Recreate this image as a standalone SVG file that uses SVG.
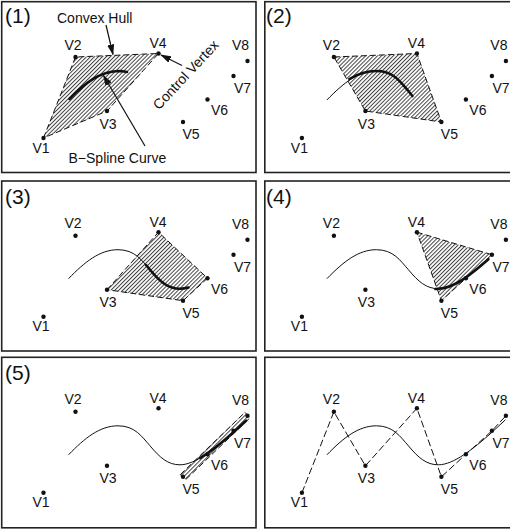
<svg xmlns="http://www.w3.org/2000/svg" width="510" height="529" viewBox="0 0 510 529">
<style>
.frame{fill:none;stroke:#222;stroke-width:1.6}
.lbl{font-family:"Liberation Sans",Arial,sans-serif;font-size:14px;fill:#111}
.mid{text-anchor:middle}
.num{font-family:"Liberation Sans",Arial,sans-serif;font-size:21px;fill:#111}
.dot{fill:#111}
.hull{fill:url(#hatch);stroke:#111;stroke-width:1;stroke-dasharray:6 3}
.curve{fill:none;stroke:#111;stroke-width:1}
.thick{fill:none;stroke:#111;stroke-width:2.6;stroke-linecap:round}
.poly{fill:none;stroke:#111;stroke-width:1;stroke-dasharray:7 3}
.arrow{fill:none;stroke:#111;stroke-width:1.2;marker-end:url(#ah)}
</style>
<defs>
<pattern id="hatch" patternUnits="userSpaceOnUse" width="2.8" height="2.8" patternTransform="rotate(45)">
<rect width="2.8" height="2.8" fill="#fff"/>
<line x1="0.5" y1="0" x2="0.5" y2="2.8" stroke="#444" stroke-width="1"/>
</pattern>
<marker id="ah" markerUnits="userSpaceOnUse" markerWidth="11" markerHeight="7" refX="10" refY="3.5" orient="auto">
<path d="M0,0 L11,3.5 L0,7 z" fill="#111"/>
</marker>
</defs>

<!-- Panel 1 -->
<g id="panel1">
<rect class="frame" x="1.7" y="1.7" width="254.3" height="170.8"/>
<text class="num" x="5" y="22.5">(1)</text>
<g id="p1-shapes">
<polygon class="hull" points="43.5,138 75.5,57 158.5,53.5 107,111"/>
<path class="thick" d="M69.5,99 C85,83 100,71.5 118,71 C121,71 124,71.3 127,72"/>
</g>
<g id="p1-vertices">
<circle class="dot" cx="43.5" cy="138" r="2.2"/><text class="lbl mid" x="41" y="152.5">V1</text>
<circle class="dot" cx="75.5" cy="57" r="2.2"/><text class="lbl mid" x="73" y="49.5">V2</text>
<circle class="dot" cx="107" cy="111" r="2.2"/><text class="lbl mid" x="108" y="128.5">V3</text>
<circle class="dot" cx="158.5" cy="53.5" r="2.2"/><text class="lbl mid" x="158" y="48">V4</text>
<circle class="dot" cx="183" cy="122" r="2.2"/><text class="lbl mid" x="191" y="139">V5</text>
<circle class="dot" cx="207.5" cy="99.5" r="2.2"/><text class="lbl mid" x="219.5" y="115">V6</text>
<circle class="dot" cx="233.5" cy="76" r="2.2"/><text class="lbl" x="234" y="93">V7</text>
<circle class="dot" cx="247.5" cy="61" r="2.2"/><text class="lbl mid" x="240.5" y="50">V8</text>
</g>
<g id="p1-annotations">
<text class="lbl" x="57" y="22.5">Convex Hull</text>
<text class="lbl" transform="translate(159,110.5) rotate(-47)">Control Vertex</text>
<text class="lbl" x="68.5" y="162.5">B−Spline Curve</text>
</g>
</g>

<!-- Panel 2 -->
<g id="panel2">
<rect class="frame" x="264.8" y="1.7" width="260" height="170.8"/>
<text class="num" x="266" y="22.5">(2)</text>
<g transform="translate(258.4,0)">
<polygon class="hull" points="75.5,57 158.5,53.5 183,122 107,111"/>
<path class="curve" d="M68.5,100 C85,83 100,71 118,71 C135,71 142,82 150,91 Q152,93.5 154,96"/>
<path class="thick" d="M91,79 C100,73.5 110,71 118,71 C135,71 142,82 150,91 Q152,93.5 154,96"/>
<circle class="dot" cx="43.5" cy="138" r="2.2"/><text class="lbl mid" x="41" y="152.5">V1</text>
<circle class="dot" cx="75.5" cy="57" r="2.2"/><text class="lbl mid" x="73" y="49.5">V2</text>
<circle class="dot" cx="107" cy="111" r="2.2"/><text class="lbl mid" x="108" y="128.5">V3</text>
<circle class="dot" cx="158.5" cy="53.5" r="2.2"/><text class="lbl mid" x="158" y="48">V4</text>
<circle class="dot" cx="183" cy="122" r="2.2"/><text class="lbl mid" x="191" y="139">V5</text>
<circle class="dot" cx="207.5" cy="99.5" r="2.2"/><text class="lbl mid" x="219.5" y="115">V6</text>
<circle class="dot" cx="233.5" cy="76" r="2.2"/><text class="lbl" x="234" y="93">V7</text>
<circle class="dot" cx="247.5" cy="61" r="2.2"/><text class="lbl mid" x="240.5" y="50">V8</text>
</g>
</g>

<!-- Panel 3 -->
<g id="panel3">
<rect class="frame" x="1.7" y="181" width="254.3" height="170"/>
<text class="num" x="5" y="203.5">(3)</text>
<g transform="translate(0,178.7)">
<polygon class="hull" points="107,111 158.5,53.5 207.5,99.5 183,122"/>
<path class="curve" d="M68.5,100 C85,83 100,71 118,71 C135,71 142,82 150,91"/>
<path class="thick" d="M146,86.5 Q148,88.5 150,91 C160,103 168,110 180,110 Q184,110 188.5,108.8"/>
<circle class="dot" cx="43.5" cy="138" r="2.2"/><text class="lbl mid" x="41" y="152.5">V1</text>
<circle class="dot" cx="75.5" cy="57" r="2.2"/><text class="lbl mid" x="73" y="49.5">V2</text>
<circle class="dot" cx="107" cy="111" r="2.2"/><text class="lbl mid" x="108" y="128.5">V3</text>
<circle class="dot" cx="158.5" cy="53.5" r="2.2"/><text class="lbl mid" x="158" y="48">V4</text>
<circle class="dot" cx="183" cy="122" r="2.2"/><text class="lbl mid" x="191" y="139">V5</text>
<circle class="dot" cx="207.5" cy="99.5" r="2.2"/><text class="lbl mid" x="219.5" y="115">V6</text>
<circle class="dot" cx="233.5" cy="76" r="2.2"/><text class="lbl" x="234" y="93">V7</text>
<circle class="dot" cx="247.5" cy="61" r="2.2"/><text class="lbl mid" x="240.5" y="50">V8</text>
</g>
</g>

<!-- Panel 4 -->
<g id="panel4">
<rect class="frame" x="264.8" y="181" width="260" height="170"/>
<text class="num" x="266" y="203.5">(4)</text>
<g transform="translate(258.4,178.7)">
<polygon class="hull" points="158.5,53.5 233.5,76 183,122"/>
<path class="curve" d="M68.5,100 C85,83 100,71 118,71 C135,71 142,82 150,91 C160,103 168,110 180,110"/>
<path class="thick" d="M177,110.3 L180,110 C195,110 213,95.5 230,80.5"/>
<circle class="dot" cx="43.5" cy="138" r="2.2"/><text class="lbl mid" x="41" y="152.5">V1</text>
<circle class="dot" cx="75.5" cy="57" r="2.2"/><text class="lbl mid" x="73" y="49.5">V2</text>
<circle class="dot" cx="107" cy="111" r="2.2"/><text class="lbl mid" x="108" y="128.5">V3</text>
<circle class="dot" cx="158.5" cy="53.5" r="2.2"/><text class="lbl mid" x="158" y="48">V4</text>
<circle class="dot" cx="183" cy="122" r="2.2"/><text class="lbl mid" x="191" y="139">V5</text>
<circle class="dot" cx="207.5" cy="99.5" r="2.2"/><text class="lbl mid" x="219.5" y="115">V6</text>
<circle class="dot" cx="233.5" cy="76" r="2.2"/><text class="lbl" x="234" y="93">V7</text>
<circle class="dot" cx="247.5" cy="61" r="2.2"/><text class="lbl mid" x="240.5" y="50">V8</text>
</g>
</g>

<!-- Panel 5 -->
<g id="panel5">
<rect class="frame" x="1.7" y="357.3" width="254.3" height="170.5"/>
<text class="num" x="5" y="380">(5)</text>
<g transform="translate(0,354.8)">
<polygon class="hull" points="180.3,119.8 245,57.5 250,63 185.5,125"/>
<path class="curve" d="M68.5,100 C85,83 100,71 118,71 C135,71 142,82 150,91 C160,103 168,110 180,110 C195,110 215,94 233,78 L247,65"/>
<path class="thick" d="M200,103.3 C210.7,97.2 222.2,87.6 233,78 L246,66"/>
<circle class="dot" cx="43.5" cy="138" r="2.2"/><text class="lbl mid" x="41" y="152.5">V1</text>
<circle class="dot" cx="75.5" cy="57" r="2.2"/><text class="lbl mid" x="73" y="49.5">V2</text>
<circle class="dot" cx="107" cy="111" r="2.2"/><text class="lbl mid" x="108" y="128.5">V3</text>
<circle class="dot" cx="158.5" cy="53.5" r="2.2"/><text class="lbl mid" x="158" y="48">V4</text>
<circle class="dot" cx="183" cy="122" r="2.2"/><text class="lbl mid" x="191" y="139">V5</text>
<circle class="dot" cx="207.5" cy="99.5" r="2.2"/><text class="lbl mid" x="219.5" y="115">V6</text>
<circle class="dot" cx="233.5" cy="76" r="2.2"/><text class="lbl" x="234" y="93">V7</text>
<circle class="dot" cx="247.5" cy="61" r="2.2"/><text class="lbl mid" x="240.5" y="50">V8</text>
</g>
</g>

<!-- Panel 6 -->
<g id="panel6">
<rect class="frame" x="264.8" y="357.3" width="260" height="170.5"/>
<g transform="translate(258.4,354.8)">
<polyline class="poly" points="43.5,138 75.5,57 107,111 158.5,53.5 183,122 207.5,99.5 233.5,76 247.5,61"/>
<path class="curve" d="M68.5,100 C85,83 100,71 118,71 C135,71 142,82 150,91 C160,103 168,110 180,110 C195,110 215,94 233,78 L247,65"/>
<circle class="dot" cx="43.5" cy="138" r="2.2"/><text class="lbl mid" x="41" y="152.5">V1</text>
<circle class="dot" cx="75.5" cy="57" r="2.2"/><text class="lbl mid" x="73" y="49.5">V2</text>
<circle class="dot" cx="107" cy="111" r="2.2"/><text class="lbl mid" x="108" y="128.5">V3</text>
<circle class="dot" cx="158.5" cy="53.5" r="2.2"/><text class="lbl mid" x="158" y="48">V4</text>
<circle class="dot" cx="183" cy="122" r="2.2"/><text class="lbl mid" x="191" y="139">V5</text>
<circle class="dot" cx="207.5" cy="99.5" r="2.2"/><text class="lbl mid" x="219.5" y="115">V6</text>
<circle class="dot" cx="233.5" cy="76" r="2.2"/><text class="lbl" x="234" y="93">V7</text>
<circle class="dot" cx="247.5" cy="61" r="2.2"/><text class="lbl mid" x="240.5" y="50">V8</text>
</g>
</g>

<!-- Connectors (annotation arrows in panel 1) -->
<g id="connectors">
<line class="arrow" x1="106" y1="25" x2="113" y2="54.5"/>
<line class="arrow" x1="182" y1="65.5" x2="161" y2="55"/>
<line class="arrow" x1="145" y1="146" x2="103.5" y2="75.5"/>
</g>
</svg>
